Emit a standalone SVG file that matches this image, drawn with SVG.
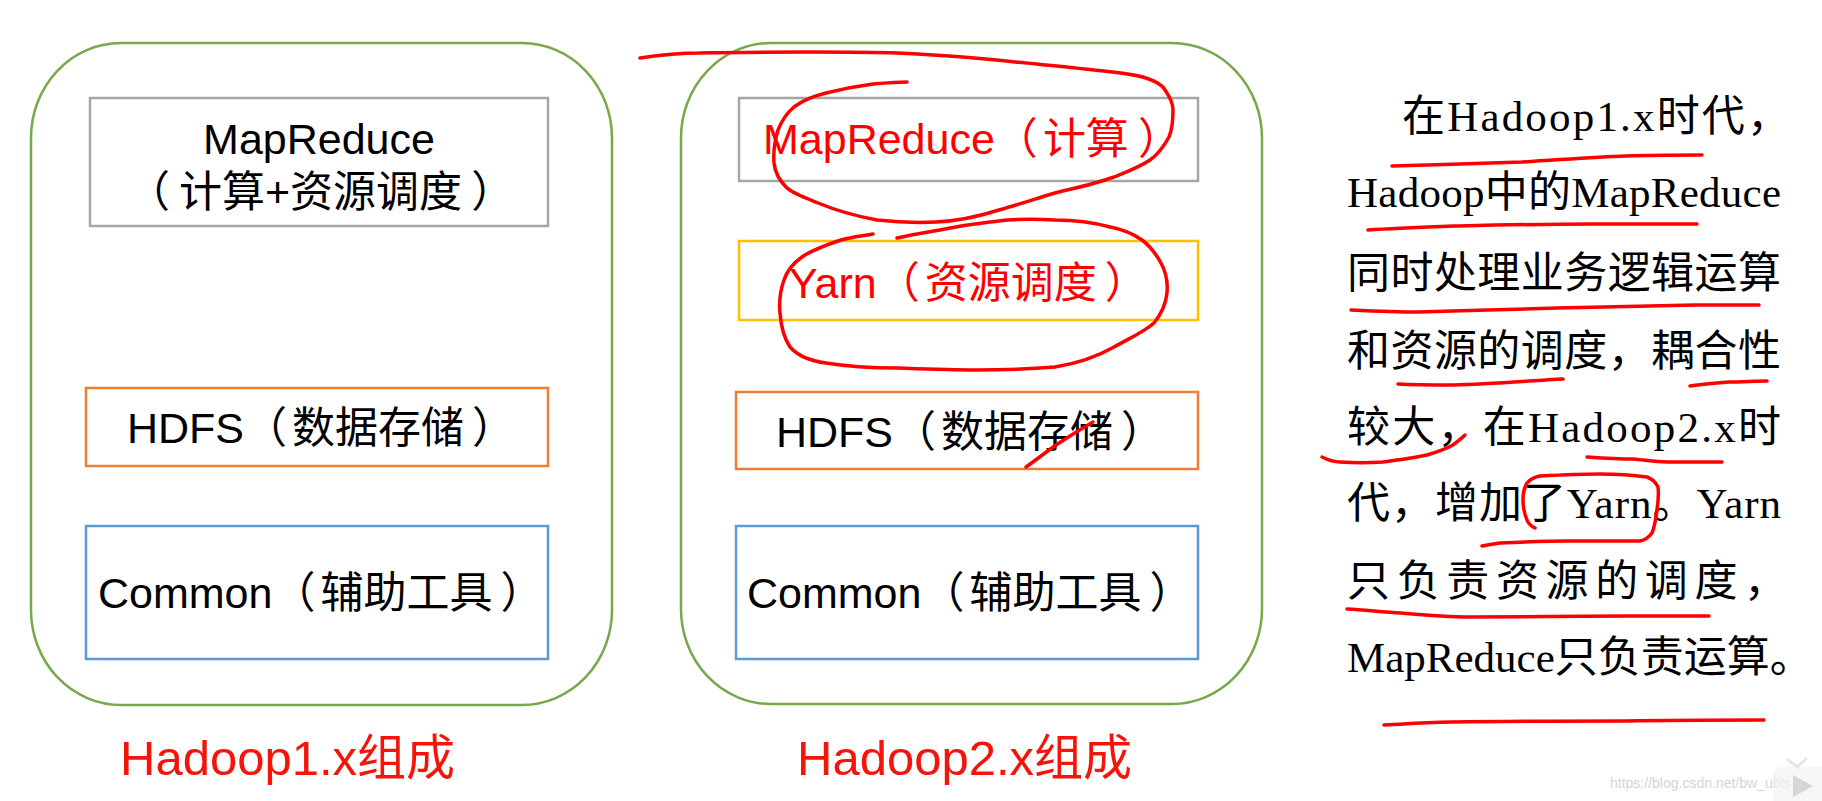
<svg xmlns="http://www.w3.org/2000/svg" width="1822" height="801" viewBox="0 0 1822 801">
<style>
.bg{fill:#ffffff}
.cont{fill:none;stroke:#77a94a;stroke-width:2.5}
.box{fill:none;stroke-width:2.5}
.gray{stroke:#a6a6a6}
.yellow{stroke:#ffc000}
.orange{stroke:#ed7d31}
.blue{stroke:#5b9bd5}
.lbl{font-family:'Liberation Sans','Noto Sans CJK SC',sans-serif;font-size:43px;fill:#000000}
.red{fill:#ff0000}
.cap{font-family:'Liberation Sans','Noto Sans CJK SC',sans-serif;font-size:49px;fill:#f5140a}
.para{font-family:'Liberation Serif','Noto Sans CJK SC',serif;font-size:43px;fill:#000000}
.pen{fill:none;stroke:#ff0000;stroke-width:3.5;stroke-linecap:round;stroke-linejoin:round}
.wm{font-family:'Liberation Sans',sans-serif;font-size:14px;fill:#d4d4d4}
</style>
<rect class="bg" x="0" y="0" width="1822" height="801"/>

<g id="hadoop1">
  <rect class="cont" x="31" y="43" width="581" height="662" rx="90" ry="95"/>
</g>
<g id="h1-mapreduce">
  <rect class="box gray" x="90" y="98" width="458" height="128"/>
  <text class="lbl" x="319" y="154" text-anchor="middle">MapReduce</text>
  <text class="lbl" x="127" y="207">（<tspan dx="9">计算+资源调度</tspan><tspan dx="9">）</tspan></text>
</g>
<g id="h1-hdfs">
  <rect class="box orange" x="86" y="388" width="462" height="78"/>
  <text class="lbl" x="127" y="443">HDFS（<tspan dx="5">数据存储</tspan><tspan dx="8">）</tspan></text>
</g>
<g id="h1-common">
  <rect class="box blue" x="86" y="526" width="462" height="133"/>
  <text class="lbl" x="98" y="608">Common（<tspan dx="5">辅助工具</tspan><tspan dx="8">）</tspan></text>
</g>
<g id="label-h1">
  <text class="cap" x="120" y="775">Hadoop1.x组成</text>
</g>

<g id="hadoop2">
  <rect class="cont" x="681" y="43" width="581" height="661" rx="90" ry="95"/>
</g>
<g id="h2-mapreduce">
  <rect class="box gray" x="739" y="98" width="459" height="83"/>
  <text class="lbl red" x="763" y="154">MapReduce（<tspan dx="5">计算</tspan><tspan dx="9">）</tspan></text>
</g>
<g id="h2-yarn">
  <rect class="box yellow" x="739" y="241" width="459" height="79"/>
  <text class="lbl red" x="789" y="298">Yarn（<tspan dx="5">资源调度</tspan><tspan dx="8">）</tspan></text>
</g>
<g id="h2-hdfs">
  <rect class="box orange" x="736" y="392" width="462" height="77"/>
  <text class="lbl" x="776" y="447">HDFS（<tspan dx="5">数据存储</tspan><tspan dx="8">）</tspan></text>
</g>
<g id="h2-common">
  <rect class="box blue" x="736" y="526" width="462" height="133"/>
  <text class="lbl" x="747" y="608">Common（<tspan dx="5">辅助工具</tspan><tspan dx="8">）</tspan></text>
</g>
<g id="label-h2">
  <text class="cap" x="797" y="775">Hadoop2.x组成</text>
</g>

<g id="description">
  <text class="para" x="1402" y="131" textLength="388" lengthAdjust="spacing">在Hadoop1.x时代，</text>
  <text class="para" x="1347" y="207" textLength="434" lengthAdjust="spacing">Hadoop中的MapReduce</text>
  <text class="para" x="1347" y="288" textLength="434" lengthAdjust="spacing">同时处理业务逻辑运算</text>
  <text class="para" x="1347" y="366" textLength="434" lengthAdjust="spacing">和资源的调度，耦合性</text>
  <text class="para" x="1347" y="442" textLength="434" lengthAdjust="spacing">较大，在Hadoop2.x时</text>
  <text class="para" x="1347" y="518" textLength="434" lengthAdjust="spacing">代，增加了Yarn。Yarn</text>
  <text class="para" x="1347" y="596" textLength="440" lengthAdjust="spacing">只负责资源的调度，</text>
  <text class="para" x="1347" y="672">MapReduce只负责运算。</text>
</g>

<g id="connectors"></g>

<g id="annotations">
  <path class="pen" d="M640,58 C660,55 680,53 699,53 C740,52 780,52 810,52 C840,52 870,52 897,53 C940,55 980,58 1015,62 C1045,65 1070,67 1094,70 C1115,72 1135,74 1146,78 C1158,82 1163,86 1165,90 C1170,97 1173,103 1173,110 C1173,120 1172,130 1169,137 C1163,148 1157,155 1150,160 C1138,168 1126,172 1114,177 C1095,184 1075,188 1055,193 C1035,199 1017,205 999,210 C980,216 958,221 936,222 C915,223 895,222 877,220 C855,216 835,210 818,203 C803,197 792,193 786,187 C779,180 775,172 774,163 C773,150 775,140 778,130 C782,120 788,112 794,107 C803,100 814,96 826,93 C842,89 858,86 873,84 C885,83 897,82 907,82"/>
  <path class="pen" d="M873,234 C862,236 851,237 841,240 C826,245 812,250 802,257 C792,264 787,271 784,280 C780,291 779,302 780,313 C781,326 784,338 790,347 C798,356 810,361 826,363 C850,367 875,368 897,368 C925,369 950,370 976,370 C1003,370 1030,369 1055,367 C1080,363 1100,355 1114,347 C1130,338 1144,332 1154,323 C1162,313 1166,303 1167,293 C1168,282 1166,272 1161,263 C1156,254 1150,246 1142,240 C1132,233 1121,229 1110,227 C1092,222 1073,220 1055,220 C1038,219 1022,219 1007,220 C990,222 972,224 956,227 C935,231 915,234 897,238"/>
  <path class="pen" d="M1026,467 C1036,460 1046,452 1056,445 C1068,437 1081,429 1093,422"/>
  <path class="pen" d="M1392,166 C1435,165 1480,163 1522,162 C1558,160 1592,157 1626,156 C1652,155 1678,155 1702,155"/>
  <path class="pen" d="M1368,230 C1395,228 1425,227 1453,226 C1500,225 1545,224 1591,224 C1628,224 1662,224 1697,224"/>
  <path class="pen" d="M1351,310 C1373,311 1396,312 1418,312 C1465,311 1510,309 1557,308 C1603,307 1650,306 1695,305 C1717,305 1738,305 1759,305"/>
  <path class="pen" d="M1398,384 C1416,385 1435,385 1453,385 C1490,384 1527,381 1563,379"/>
  <path class="pen" d="M1690,386 C1703,384 1716,383 1729,382 C1742,382 1755,381 1767,381"/>
  <path class="pen" d="M1322,457 C1328,460 1334,462 1340,462 C1354,463 1369,463 1383,462 C1398,460 1413,458 1427,455 C1437,452 1446,449 1453,445 C1458,441 1462,438 1465,435"/>
  <path class="pen" d="M1587,457 C1602,458 1618,459 1633,459 C1645,460 1656,462 1667,462 C1685,462 1703,462 1722,462"/>
  <path class="pen" d="M1535,528 C1531,526 1528,523 1527,520 C1524,513 1523,506 1523,500 C1523,494 1524,488 1527,483 C1530,479 1535,477 1540,476 C1560,475 1580,474 1600,474 C1616,474 1632,475 1647,477 C1653,479 1656,483 1658,487 C1659,495 1658,503 1657,510 C1656,518 1655,526 1652,533 C1649,537 1645,540 1640,541 C1616,541 1591,541 1567,541 C1545,541 1522,542 1500,543 C1493,544 1487,545 1482,546"/>
  <path class="pen" d="M1347,609 C1365,610 1383,612 1401,613 C1424,615 1447,617 1470,617 C1522,617 1574,616 1626,616 C1654,616 1682,616 1709,616"/>
  <path class="pen" d="M1384,725 C1407,724 1430,722 1453,722 C1511,721 1568,721 1626,721 C1672,720 1718,720 1764,720"/>
</g>

<g id="watermark">
  <text class="wm" x="1610" y="788">https://blog.csdn.net/bw_ubts</text>
  <rect x="1773" y="767" width="60" height="40" rx="8" fill="#f2f2f2" fill-opacity="0.7"/>
  <path d="M1787,759 L1797,767 L1807,758" fill="none" stroke="#e6e6e6" stroke-width="3"/>
  <path d="M1793,775 L1793,797 L1813,786 Z" fill="#d6d6d6"/>
</g>
</svg>
